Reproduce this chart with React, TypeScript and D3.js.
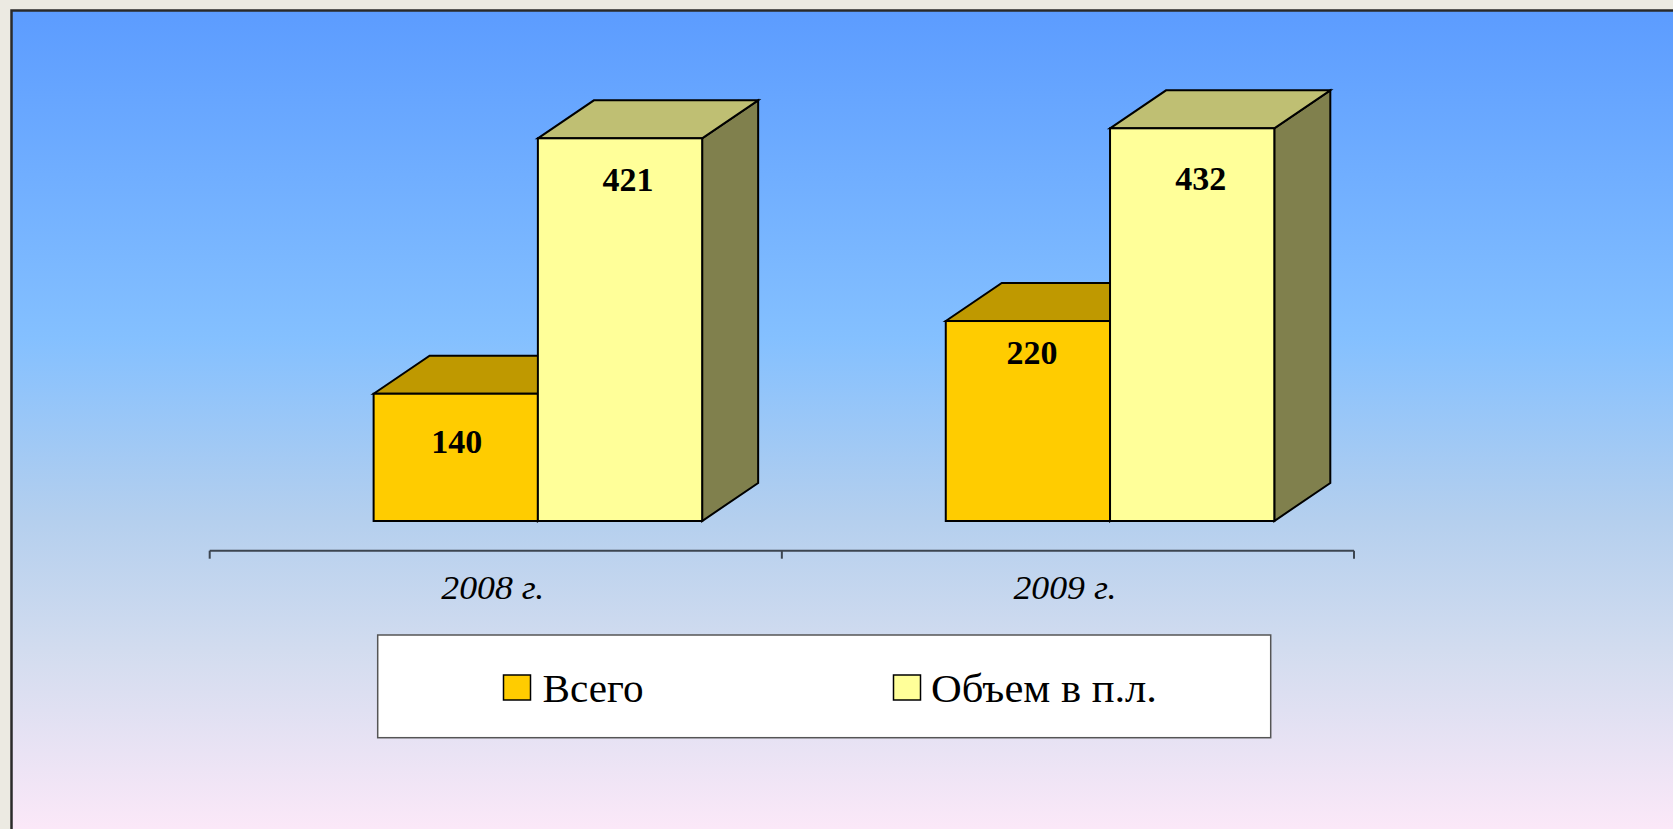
import React from "react";
import * as d3 from "d3";

const categories = ["2008 г.", "2009 г."];
const seriesNames = ["Всего", "Объем в п.л."];
const seriesVsego = [140, 220];
const seriesObem = [421, 432];
const seriesColors = ["#FFCC00", "#FFFF99"];

const W = 1673;
const H = 829;

// label nudges [series][category]: [dx, distance from bar top to label centre]
const labelNudge = [
  [[1, 47.7], [4, 31]],
  [[8, 41], [8.5, 50]],
];

export default function App() {
  const values = [seriesVsego, seriesObem];
  const x = d3.scaleBand<string>().domain(categories).range([209.7, 1354]).padding(0);
  const bw = x.bandwidth();
  const inner = d3.scaleBand<string>().domain(seriesNames).range([0, bw * 0.5742]).padding(0);
  const y = d3.scaleLinear().domain([0, 500]).range([521, 521 - 454.5]);
  const dx = 56;
  const dy = 38;
  const axisY = 550.7;
  const serif = "'Liberation Serif', 'Times New Roman', serif";

  const shade = (c: string, k: number) => {
    const col = d3.rgb(c);
    return d3.rgb(col.r * k, col.g * k, col.b * k).formatHex();
  };

  const bars: React.ReactNode[] = [];
  categories.forEach((cat, ci) => {
    const gx = (x(cat) as number) + bw * 0.2865;
    seriesNames.forEach((s, si) => {
      const v = values[si][ci];
      const x0 = gx + (inner(s) as number);
      const w = inner.bandwidth();
      const yt = y(v);
      const yb = y(0);
      const col = seriesColors[si];
      const top = `${x0},${yt} ${x0 + dx},${yt - dy} ${x0 + w + dx},${yt - dy} ${x0 + w},${yt}`;
      const side = `${x0 + w},${yt} ${x0 + w + dx},${yt - dy} ${x0 + w + dx},${yb - dy} ${x0 + w},${yb}`;
      const [nx, ny] = labelNudge[si][ci];
      bars.push(
        <g key={`${ci}-${si}`} stroke="#000" strokeWidth={2} strokeLinejoin="miter">
          <polygon points={side} fill={shade(col, 0.5)} />
          <polygon points={top} fill={shade(col, 0.75)} />
          <rect x={x0} y={yt} width={w} height={yb - yt} fill={col} />
          <text
            x={x0 + w / 2 + nx}
            y={yt + ny + 11.5}
            textAnchor="middle"
            fontFamily={serif}
            fontWeight="bold"
            fontSize={34}
            fill="#000"
            stroke="none"
          >
            {v}
          </text>
        </g>
      );
    });
  });

  const ticks = [x.range()[0], ...categories.map((c) => (x(c) as number) + bw)];

  const legendItems = [
    { sx: 503.5, tx: 542.5, len: 101 },
    { sx: 893.5, tx: 931, len: 226 },
  ];

  return (
    <svg
      width={W}
      height={H}
      style={{ position: "absolute", left: 0, top: 0, display: "block" }}
    >
      <defs>
        <linearGradient id="bg" x1="0" y1="11" x2="0" y2="829" gradientUnits="userSpaceOnUse">
          <stop offset="0" stopColor="#5C9CFF" />
          <stop offset="0.4" stopColor="#84C0FF" />
          <stop offset="0.62" stopColor="#B4CFEE" />
          <stop offset="0.78" stopColor="#D2DCEF" />
          <stop offset="1" stopColor="#FBE8F8" />
        </linearGradient>
      </defs>
      <rect x={0} y={0} width={W} height={H} fill="#ECEAE2" />
      <rect x={11.5} y={10.5} width={W + 50} height={H + 50} fill="url(#bg)" stroke="#2a2a2a" strokeWidth={2.5} />

      {/* category axis */}
      <g stroke="#3c4550" strokeWidth={2}>
        <line x1={x.range()[0]} x2={x.range()[1]} y1={axisY} y2={axisY} />
        {ticks.map((t, i) => (
          <line key={i} x1={t} x2={t} y1={axisY} y2={axisY + 8} />
        ))}
      </g>
      {categories.map((c) => (
        <text
          key={c}
          x={(x(c) as number) + bw / 2 - 3}
          y={599}
          textAnchor="middle"
          fontFamily={serif}
          fontStyle="italic"
          fontSize={34}
          textLength={103}
          lengthAdjust="spacingAndGlyphs"
          fill="#000"
        >
          {c}
        </text>
      ))}

      {bars}

      {/* legend */}
      <rect x={377.7} y={635} width={893} height={102.7} fill="#fff" stroke="#555" strokeWidth={1.5} />
      {seriesNames.map((s, i) => (
        <g key={s}>
          <rect x={legendItems[i].sx} y={675} width={27} height={25} fill={seriesColors[i]} stroke="#000" strokeWidth={1.5} />
          <text
            x={legendItems[i].tx}
            y={702.3}
            fontFamily={serif}
            fontSize={39}
            textLength={legendItems[i].len}
            lengthAdjust="spacingAndGlyphs"
            fill="#000"
          >
            {s}
          </text>
        </g>
      ))}
    </svg>
  );
}
